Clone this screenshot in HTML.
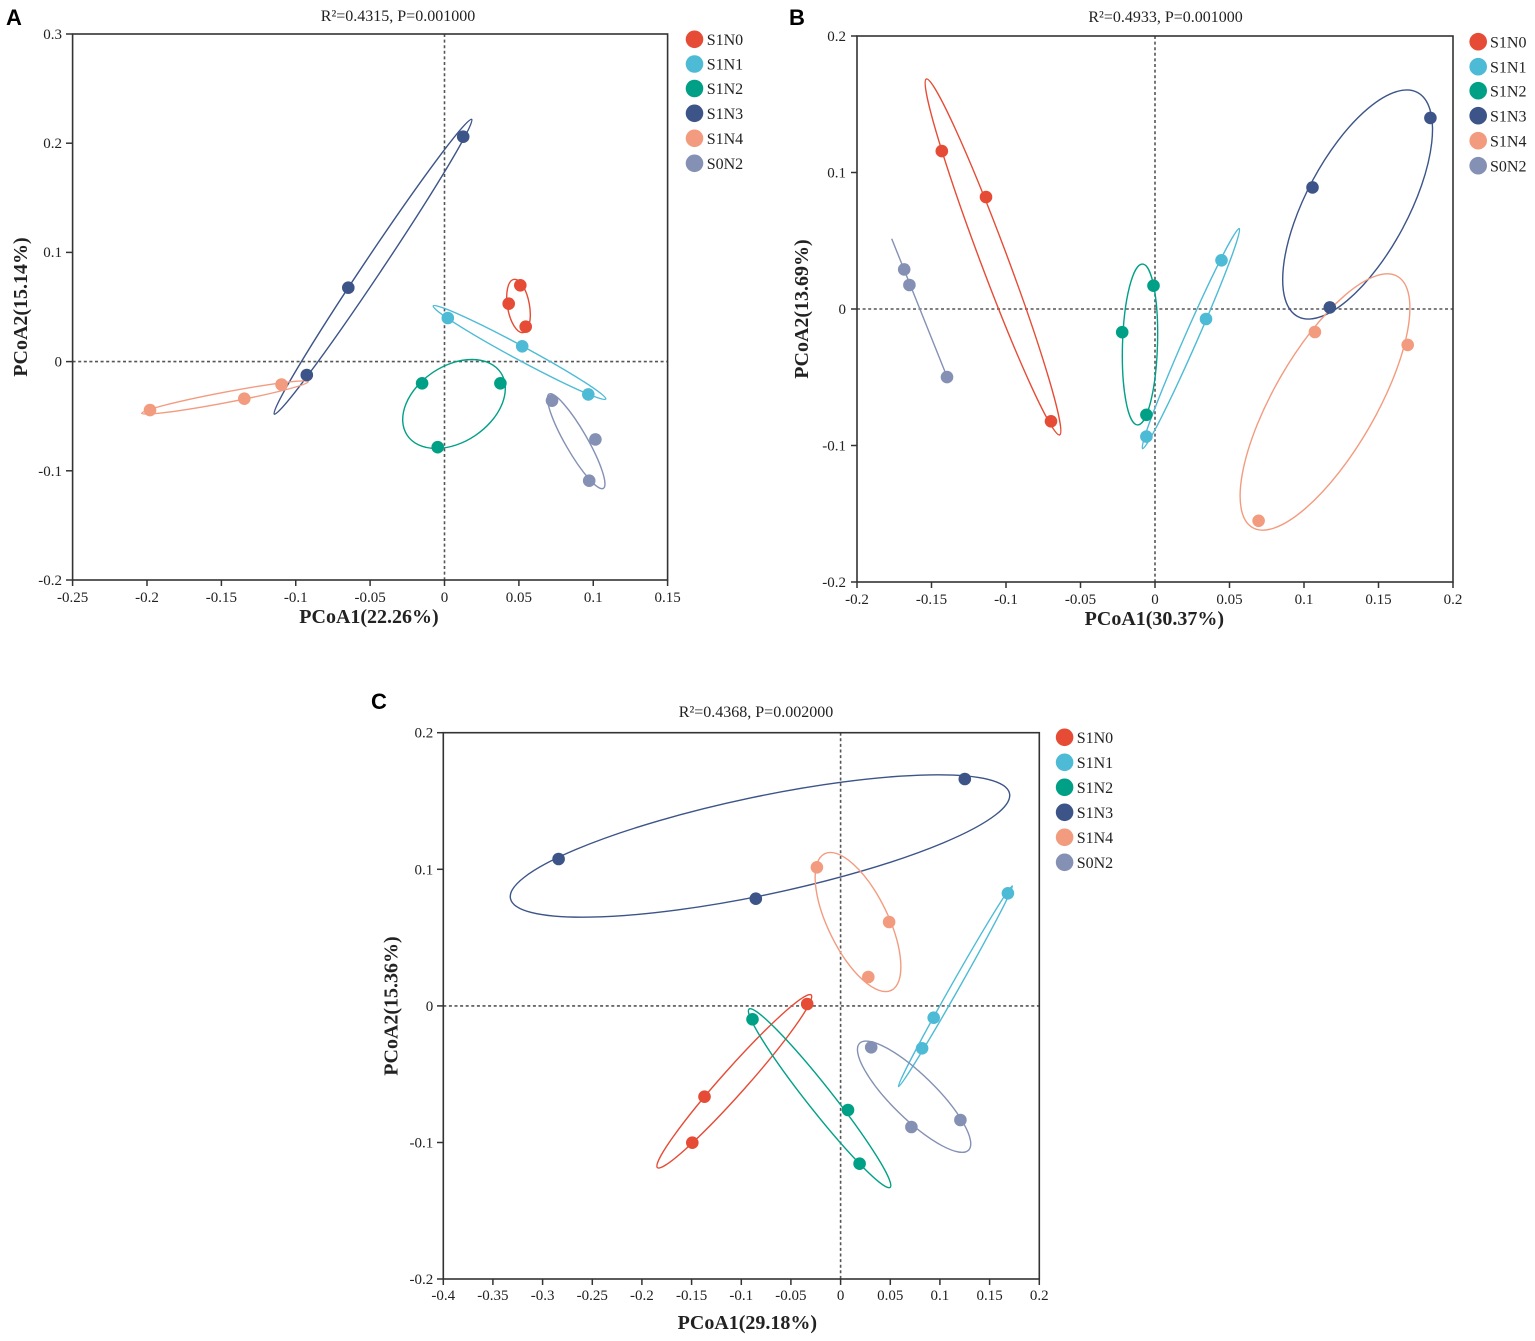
<!DOCTYPE html>
<html><head><meta charset="utf-8"><style>
html,body{margin:0;padding:0;background:#fff;}
svg{display:block;}
.t{font-family:"Liberation Serif",serif;font-size:15px;fill:#222;}
.ti{font-family:"Liberation Serif",serif;font-size:16px;fill:#222;}
.lg{font-family:"Liberation Serif",serif;font-size:16px;fill:#222;}
.ax{font-family:"Liberation Serif",serif;font-size:20px;font-weight:bold;fill:#222;}
.pl{font-family:"Liberation Sans",sans-serif;font-size:22px;font-weight:bold;fill:#000;}
.box{fill:none;stroke:#333;stroke-width:1.6;}
.tk{stroke:#333;stroke-width:1.5;}
.zl{stroke:#555;stroke-width:1.6;stroke-dasharray:3 2.6;}
.e{fill:none;stroke-width:1.4;}
</style></head><body>
<svg width="1535" height="1341" viewBox="0 0 1535 1341" xmlns="http://www.w3.org/2000/svg">
<rect width="1535" height="1341" fill="#fff"/>

<!-- ================= PANEL A ================= -->
<text class="pl" x="6" y="25">A</text>
<text class="ti" x="398" y="21" text-anchor="middle">R²=0.4315, P=0.001000</text>
<line class="zl" x1="444.5" y1="34" x2="444.5" y2="580"/>
<line class="zl" x1="72.6" y1="361.6" x2="667.6" y2="361.6"/>
<rect class="box" x="72.6" y="34" width="595" height="546"/>
<g class="tk">
<line x1="66" y1="34" x2="72.6" y2="34"/><line x1="66" y1="143.2" x2="72.6" y2="143.2"/><line x1="66" y1="252.4" x2="72.6" y2="252.4"/><line x1="66" y1="361.6" x2="72.6" y2="361.6"/><line x1="66" y1="470.8" x2="72.6" y2="470.8"/><line x1="66" y1="580" x2="72.6" y2="580"/>
<line x1="72.6" y1="580" x2="72.6" y2="586"/><line x1="147" y1="580" x2="147" y2="586"/><line x1="221.4" y1="580" x2="221.4" y2="586"/><line x1="295.75" y1="580" x2="295.75" y2="586"/><line x1="370.1" y1="580" x2="370.1" y2="586"/><line x1="444.5" y1="580" x2="444.5" y2="586"/><line x1="518.9" y1="580" x2="518.9" y2="586"/><line x1="593.25" y1="580" x2="593.25" y2="586"/><line x1="667.6" y1="580" x2="667.6" y2="586"/>
</g>
<g class="t" text-anchor="end">
<text x="62" y="39">0.3</text><text x="62" y="148">0.2</text><text x="62" y="257">0.1</text><text x="62" y="366.5">0</text><text x="62" y="476">-0.1</text><text x="62" y="585">-0.2</text>
</g>
<g class="t" text-anchor="middle">
<text x="72.6" y="602">-0.25</text><text x="147" y="602">-0.2</text><text x="221.4" y="602">-0.15</text><text x="295.75" y="602">-0.1</text><text x="370.1" y="602">-0.05</text><text x="444.5" y="602">0</text><text x="518.9" y="602">0.05</text><text x="593.25" y="602">0.1</text><text x="667.6" y="602">0.15</text>
</g>
<text class="ax" x="369" y="623" text-anchor="middle">PCoA1(22.26%)</text>
<text class="ax" transform="translate(27,307) rotate(-90)" text-anchor="middle">PCoA2(15.14%)</text>

<ellipse class="e" stroke="#3C5488" cx="373" cy="266.7" rx="177.4" ry="9" transform="rotate(-56.2 373 266.7)"/>
<ellipse class="e" stroke="#F39B7F" cx="225" cy="397.5" rx="84.8" ry="5.3" transform="rotate(-10.74 225 397.5)"/>
<ellipse class="e" stroke="#E64B35" cx="518.5" cy="306" rx="27" ry="11" transform="rotate(80 518.5 306)"/>
<ellipse class="e" stroke="#4DBBD5" cx="519.5" cy="352.5" rx="98" ry="7" transform="rotate(28.35 519.5 352.5)"/>
<ellipse class="e" stroke="#00A087" cx="454" cy="404" rx="56.3" ry="38" transform="rotate(-33.9 454 404)"/>
<ellipse class="e" stroke="#8491B4" cx="576.2" cy="441.2" rx="54.4" ry="11" transform="rotate(60.1 576.2 441.2)"/>

<g fill="#F39B7F"><circle cx="150" cy="410.1" r="6.3"/><circle cx="244.3" cy="398.7" r="6.3"/><circle cx="281.5" cy="384.5" r="6.3"/></g>
<g fill="#3C5488"><circle cx="306.8" cy="375" r="6.3"/><circle cx="348.3" cy="287.7" r="6.3"/><circle cx="463.2" cy="136.7" r="6.3"/></g>
<g fill="#E64B35"><circle cx="520.3" cy="285.3" r="6.3"/><circle cx="508.7" cy="303.7" r="6.3"/><circle cx="525.7" cy="326.7" r="6.3"/></g>
<g fill="#4DBBD5"><circle cx="447.8" cy="318" r="6.3"/><circle cx="522.2" cy="346.3" r="6.3"/><circle cx="588.3" cy="394.4" r="6.3"/></g>
<g fill="#00A087"><circle cx="422.1" cy="383.3" r="6.3"/><circle cx="500.4" cy="383.3" r="6.3"/><circle cx="437.7" cy="447.2" r="6.3"/></g>
<g fill="#8491B4"><circle cx="552" cy="400.7" r="6.3"/><circle cx="595.4" cy="439.4" r="6.3"/><circle cx="589.2" cy="480.7" r="6.3"/></g>

<g>
<circle cx="694.5" cy="39.3" r="8.8" fill="#E64B35"/><text class="lg" x="706.7" y="45">S1N0</text>
<circle cx="694.5" cy="64" r="8.8" fill="#4DBBD5"/><text class="lg" x="706.7" y="69.7">S1N1</text>
<circle cx="694.5" cy="88.5" r="8.8" fill="#00A087"/><text class="lg" x="706.7" y="94.2">S1N2</text>
<circle cx="694.5" cy="113.3" r="8.8" fill="#3C5488"/><text class="lg" x="706.7" y="119">S1N3</text>
<circle cx="694.5" cy="138.3" r="8.8" fill="#F39B7F"/><text class="lg" x="706.7" y="144">S1N4</text>
<circle cx="694.5" cy="163.3" r="8.8" fill="#8491B4"/><text class="lg" x="706.7" y="169">S0N2</text>
</g>

<!-- ================= PANEL B ================= -->
<text class="pl" x="789" y="25">B</text>
<text class="ti" x="1165.6" y="22" text-anchor="middle">R²=0.4933, P=0.001000</text>
<line class="zl" x1="1155" y1="36" x2="1155" y2="582"/>
<line class="zl" x1="857" y1="309" x2="1453" y2="309"/>
<rect class="box" x="857" y="36" width="596" height="546"/>
<g class="tk">
<line x1="851" y1="36" x2="857" y2="36"/><line x1="851" y1="172.5" x2="857" y2="172.5"/><line x1="851" y1="309" x2="857" y2="309"/><line x1="851" y1="445.5" x2="857" y2="445.5"/><line x1="851" y1="582" x2="857" y2="582"/>
<line x1="857" y1="582" x2="857" y2="588"/><line x1="931.5" y1="582" x2="931.5" y2="588"/><line x1="1006" y1="582" x2="1006" y2="588"/><line x1="1080.5" y1="582" x2="1080.5" y2="588"/><line x1="1155" y1="582" x2="1155" y2="588"/><line x1="1229.5" y1="582" x2="1229.5" y2="588"/><line x1="1304" y1="582" x2="1304" y2="588"/><line x1="1378.5" y1="582" x2="1378.5" y2="588"/><line x1="1453" y1="582" x2="1453" y2="588"/>
</g>
<g class="t" text-anchor="end">
<text x="846" y="41">0.2</text><text x="846" y="177.5">0.1</text><text x="846" y="314">0</text><text x="846" y="450.5">-0.1</text><text x="846" y="587">-0.2</text>
</g>
<g class="t" text-anchor="middle">
<text x="857" y="604">-0.2</text><text x="931.5" y="604">-0.15</text><text x="1006" y="604">-0.1</text><text x="1080.5" y="604">-0.05</text><text x="1155" y="604">0</text><text x="1229.5" y="604">0.05</text><text x="1304" y="604">0.1</text><text x="1378.5" y="604">0.15</text><text x="1453" y="604">0.2</text>
</g>
<text class="ax" x="1154.4" y="625" text-anchor="middle">PCoA1(30.37%)</text>
<text class="ax" transform="translate(808,309) rotate(-90)" text-anchor="middle">PCoA2(13.69%)</text>

<ellipse class="e" stroke="#E64B35" cx="993" cy="256.9" rx="190" ry="13.5" transform="rotate(69.46 993 256.9)"/>
<line stroke="#8491B4" stroke-width="1.4" x1="891.7" y1="238.7" x2="947.5" y2="378"/>
<ellipse class="e" stroke="#00A087" cx="1140" cy="344.5" rx="80.5" ry="17.5" transform="rotate(-88.25 1140 344.5)"/>
<ellipse class="e" stroke="#4DBBD5" cx="1190.9" cy="338.6" rx="120.2" ry="6.5" transform="rotate(-66.27 1190.9 338.6)"/>
<ellipse class="e" stroke="#3C5488" cx="1357.6" cy="204.5" rx="127" ry="51" transform="rotate(-61.85 1357.6 204.5)"/>
<ellipse class="e" stroke="#F39B7F" cx="1325" cy="402" rx="145" ry="51" transform="rotate(-60 1325 402)"/>

<g fill="#E64B35"><circle cx="941.8" cy="151.1" r="6.3"/><circle cx="986" cy="197" r="6.3"/><circle cx="1051" cy="421.3" r="6.3"/></g>
<g fill="#8491B4"><circle cx="904.2" cy="269.4" r="6.3"/><circle cx="909.4" cy="285" r="6.3"/><circle cx="947" cy="377.1" r="6.3"/></g>
<g fill="#00A087"><circle cx="1153.5" cy="285.7" r="6.3"/><circle cx="1122.2" cy="332.2" r="6.3"/><circle cx="1146.4" cy="414.8" r="6.3"/></g>
<g fill="#4DBBD5"><circle cx="1221.5" cy="260.3" r="6.3"/><circle cx="1206" cy="319" r="6.3"/><circle cx="1146.4" cy="436.6" r="6.3"/></g>
<g fill="#3C5488"><circle cx="1430.4" cy="117.9" r="6.3"/><circle cx="1312.5" cy="187.4" r="6.3"/><circle cx="1329.8" cy="307.4" r="6.3"/></g>
<g fill="#F39B7F"><circle cx="1314.9" cy="332" r="6.3"/><circle cx="1407.7" cy="344.9" r="6.3"/><circle cx="1258.6" cy="520.8" r="6.3"/></g>

<g>
<circle cx="1478.2" cy="41.7" r="8.8" fill="#E64B35"/><text class="lg" x="1490" y="47.4">S1N0</text>
<circle cx="1478.2" cy="66.7" r="8.8" fill="#4DBBD5"/><text class="lg" x="1490" y="72.4">S1N1</text>
<circle cx="1478.2" cy="90.7" r="8.8" fill="#00A087"/><text class="lg" x="1490" y="96.4">S1N2</text>
<circle cx="1478.2" cy="115.7" r="8.8" fill="#3C5488"/><text class="lg" x="1490" y="121.4">S1N3</text>
<circle cx="1478.2" cy="140.7" r="8.8" fill="#F39B7F"/><text class="lg" x="1490" y="146.4">S1N4</text>
<circle cx="1478.2" cy="165.7" r="8.8" fill="#8491B4"/><text class="lg" x="1490" y="171.4">S0N2</text>
</g>

<!-- ================= PANEL C ================= -->
<text class="pl" x="371" y="709">C</text>
<text class="ti" x="756" y="717" text-anchor="middle">R²=0.4368, P=0.002000</text>
<line class="zl" x1="840.6" y1="732.7" x2="840.6" y2="1279"/>
<line class="zl" x1="443.3" y1="1005.9" x2="1039.3" y2="1005.9"/>
<rect class="box" x="443.3" y="732.7" width="596" height="546.3"/>
<g class="tk">
<line x1="437" y1="732.7" x2="443.3" y2="732.7"/><line x1="437" y1="869.3" x2="443.3" y2="869.3"/><line x1="437" y1="1005.9" x2="443.3" y2="1005.9"/><line x1="437" y1="1142.5" x2="443.3" y2="1142.5"/><line x1="437" y1="1279" x2="443.3" y2="1279"/>
<line x1="443.3" y1="1279" x2="443.3" y2="1285"/><line x1="492.9" y1="1279" x2="492.9" y2="1285"/><line x1="542.6" y1="1279" x2="542.6" y2="1285"/><line x1="592.3" y1="1279" x2="592.3" y2="1285"/><line x1="641.9" y1="1279" x2="641.9" y2="1285"/><line x1="691.6" y1="1279" x2="691.6" y2="1285"/><line x1="741.3" y1="1279" x2="741.3" y2="1285"/><line x1="790.9" y1="1279" x2="790.9" y2="1285"/><line x1="840.6" y1="1279" x2="840.6" y2="1285"/><line x1="890.3" y1="1279" x2="890.3" y2="1285"/><line x1="939.9" y1="1279" x2="939.9" y2="1285"/><line x1="989.6" y1="1279" x2="989.6" y2="1285"/><line x1="1039.3" y1="1279" x2="1039.3" y2="1285"/>
</g>
<g class="t" text-anchor="end">
<text x="433.3" y="737.7">0.2</text><text x="433.3" y="874.3">0.1</text><text x="433.3" y="1010.9">0</text><text x="433.3" y="1147.5">-0.1</text><text x="433.3" y="1284">-0.2</text>
</g>
<g class="t" text-anchor="middle">
<text x="443.3" y="1300">-0.4</text><text x="492.9" y="1300">-0.35</text><text x="542.6" y="1300">-0.3</text><text x="592.3" y="1300">-0.25</text><text x="641.9" y="1300">-0.2</text><text x="691.6" y="1300">-0.15</text><text x="741.3" y="1300">-0.1</text><text x="790.9" y="1300">-0.05</text><text x="840.6" y="1300">0</text><text x="890.3" y="1300">0.05</text><text x="939.9" y="1300">0.1</text><text x="989.6" y="1300">0.15</text><text x="1039.3" y="1300">0.2</text>
</g>
<text class="ax" x="747.4" y="1329" text-anchor="middle">PCoA1(29.18%)</text>
<text class="ax" transform="translate(397.5,1006) rotate(-90)" text-anchor="middle">PCoA2(15.36%)</text>

<ellipse class="e" stroke="#3C5488" cx="760" cy="846" rx="255" ry="49" transform="rotate(-11.9 760 846)"/>
<ellipse class="e" stroke="#F39B7F" cx="858" cy="922" rx="76" ry="30" transform="rotate(64 858 922)"/>
<ellipse class="e" stroke="#4DBBD5" cx="955.4" cy="986.3" rx="115.4" ry="4" transform="rotate(-60.43 955.4 986.3)"/>
<ellipse class="e" stroke="#E64B35" cx="734.3" cy="1081.3" rx="115.6" ry="12.5" transform="rotate(-48.33 734.3 1081.3)"/>
<ellipse class="e" stroke="#00A087" cx="819.6" cy="1098.2" rx="113.7" ry="12.5" transform="rotate(51.66 819.6 1098.2)"/>
<ellipse class="e" stroke="#8491B4" cx="914.1" cy="1096.7" rx="76.3" ry="22" transform="rotate(44.4 914.1 1096.7)"/>

<g fill="#3C5488"><circle cx="964.8" cy="779" r="6.3"/><circle cx="558.6" cy="859" r="6.3"/><circle cx="755.8" cy="898.7" r="6.3"/></g>
<g fill="#F39B7F"><circle cx="816.9" cy="867.3" r="6.3"/><circle cx="889.1" cy="922" r="6.3"/><circle cx="868.3" cy="977" r="6.3"/></g>
<g fill="#4DBBD5"><circle cx="1007.9" cy="893.3" r="6.3"/><circle cx="933.7" cy="1017.7" r="6.3"/><circle cx="922.1" cy="1048.3" r="6.3"/></g>
<g fill="#E64B35"><circle cx="807.2" cy="1004" r="6.3"/><circle cx="704.5" cy="1096.7" r="6.3"/><circle cx="692.3" cy="1142.7" r="6.3"/></g>
<g fill="#00A087"><circle cx="752.5" cy="1019.3" r="6.3"/><circle cx="848" cy="1110" r="6.3"/><circle cx="859.6" cy="1163.7" r="6.3"/></g>
<g fill="#8491B4"><circle cx="871.2" cy="1047.3" r="6.3"/><circle cx="911.4" cy="1127" r="6.3"/><circle cx="960.4" cy="1120" r="6.3"/></g>

<g>
<circle cx="1064.6" cy="737.3" r="8.8" fill="#E64B35"/><text class="lg" x="1076.7" y="743">S1N0</text>
<circle cx="1064.6" cy="762.3" r="8.8" fill="#4DBBD5"/><text class="lg" x="1076.7" y="768">S1N1</text>
<circle cx="1064.6" cy="787.3" r="8.8" fill="#00A087"/><text class="lg" x="1076.7" y="793">S1N2</text>
<circle cx="1064.6" cy="812.3" r="8.8" fill="#3C5488"/><text class="lg" x="1076.7" y="818">S1N3</text>
<circle cx="1064.6" cy="837.3" r="8.8" fill="#F39B7F"/><text class="lg" x="1076.7" y="843">S1N4</text>
<circle cx="1064.6" cy="862.3" r="8.8" fill="#8491B4"/><text class="lg" x="1076.7" y="868">S0N2</text>
</g>
</svg>
</body></html>
